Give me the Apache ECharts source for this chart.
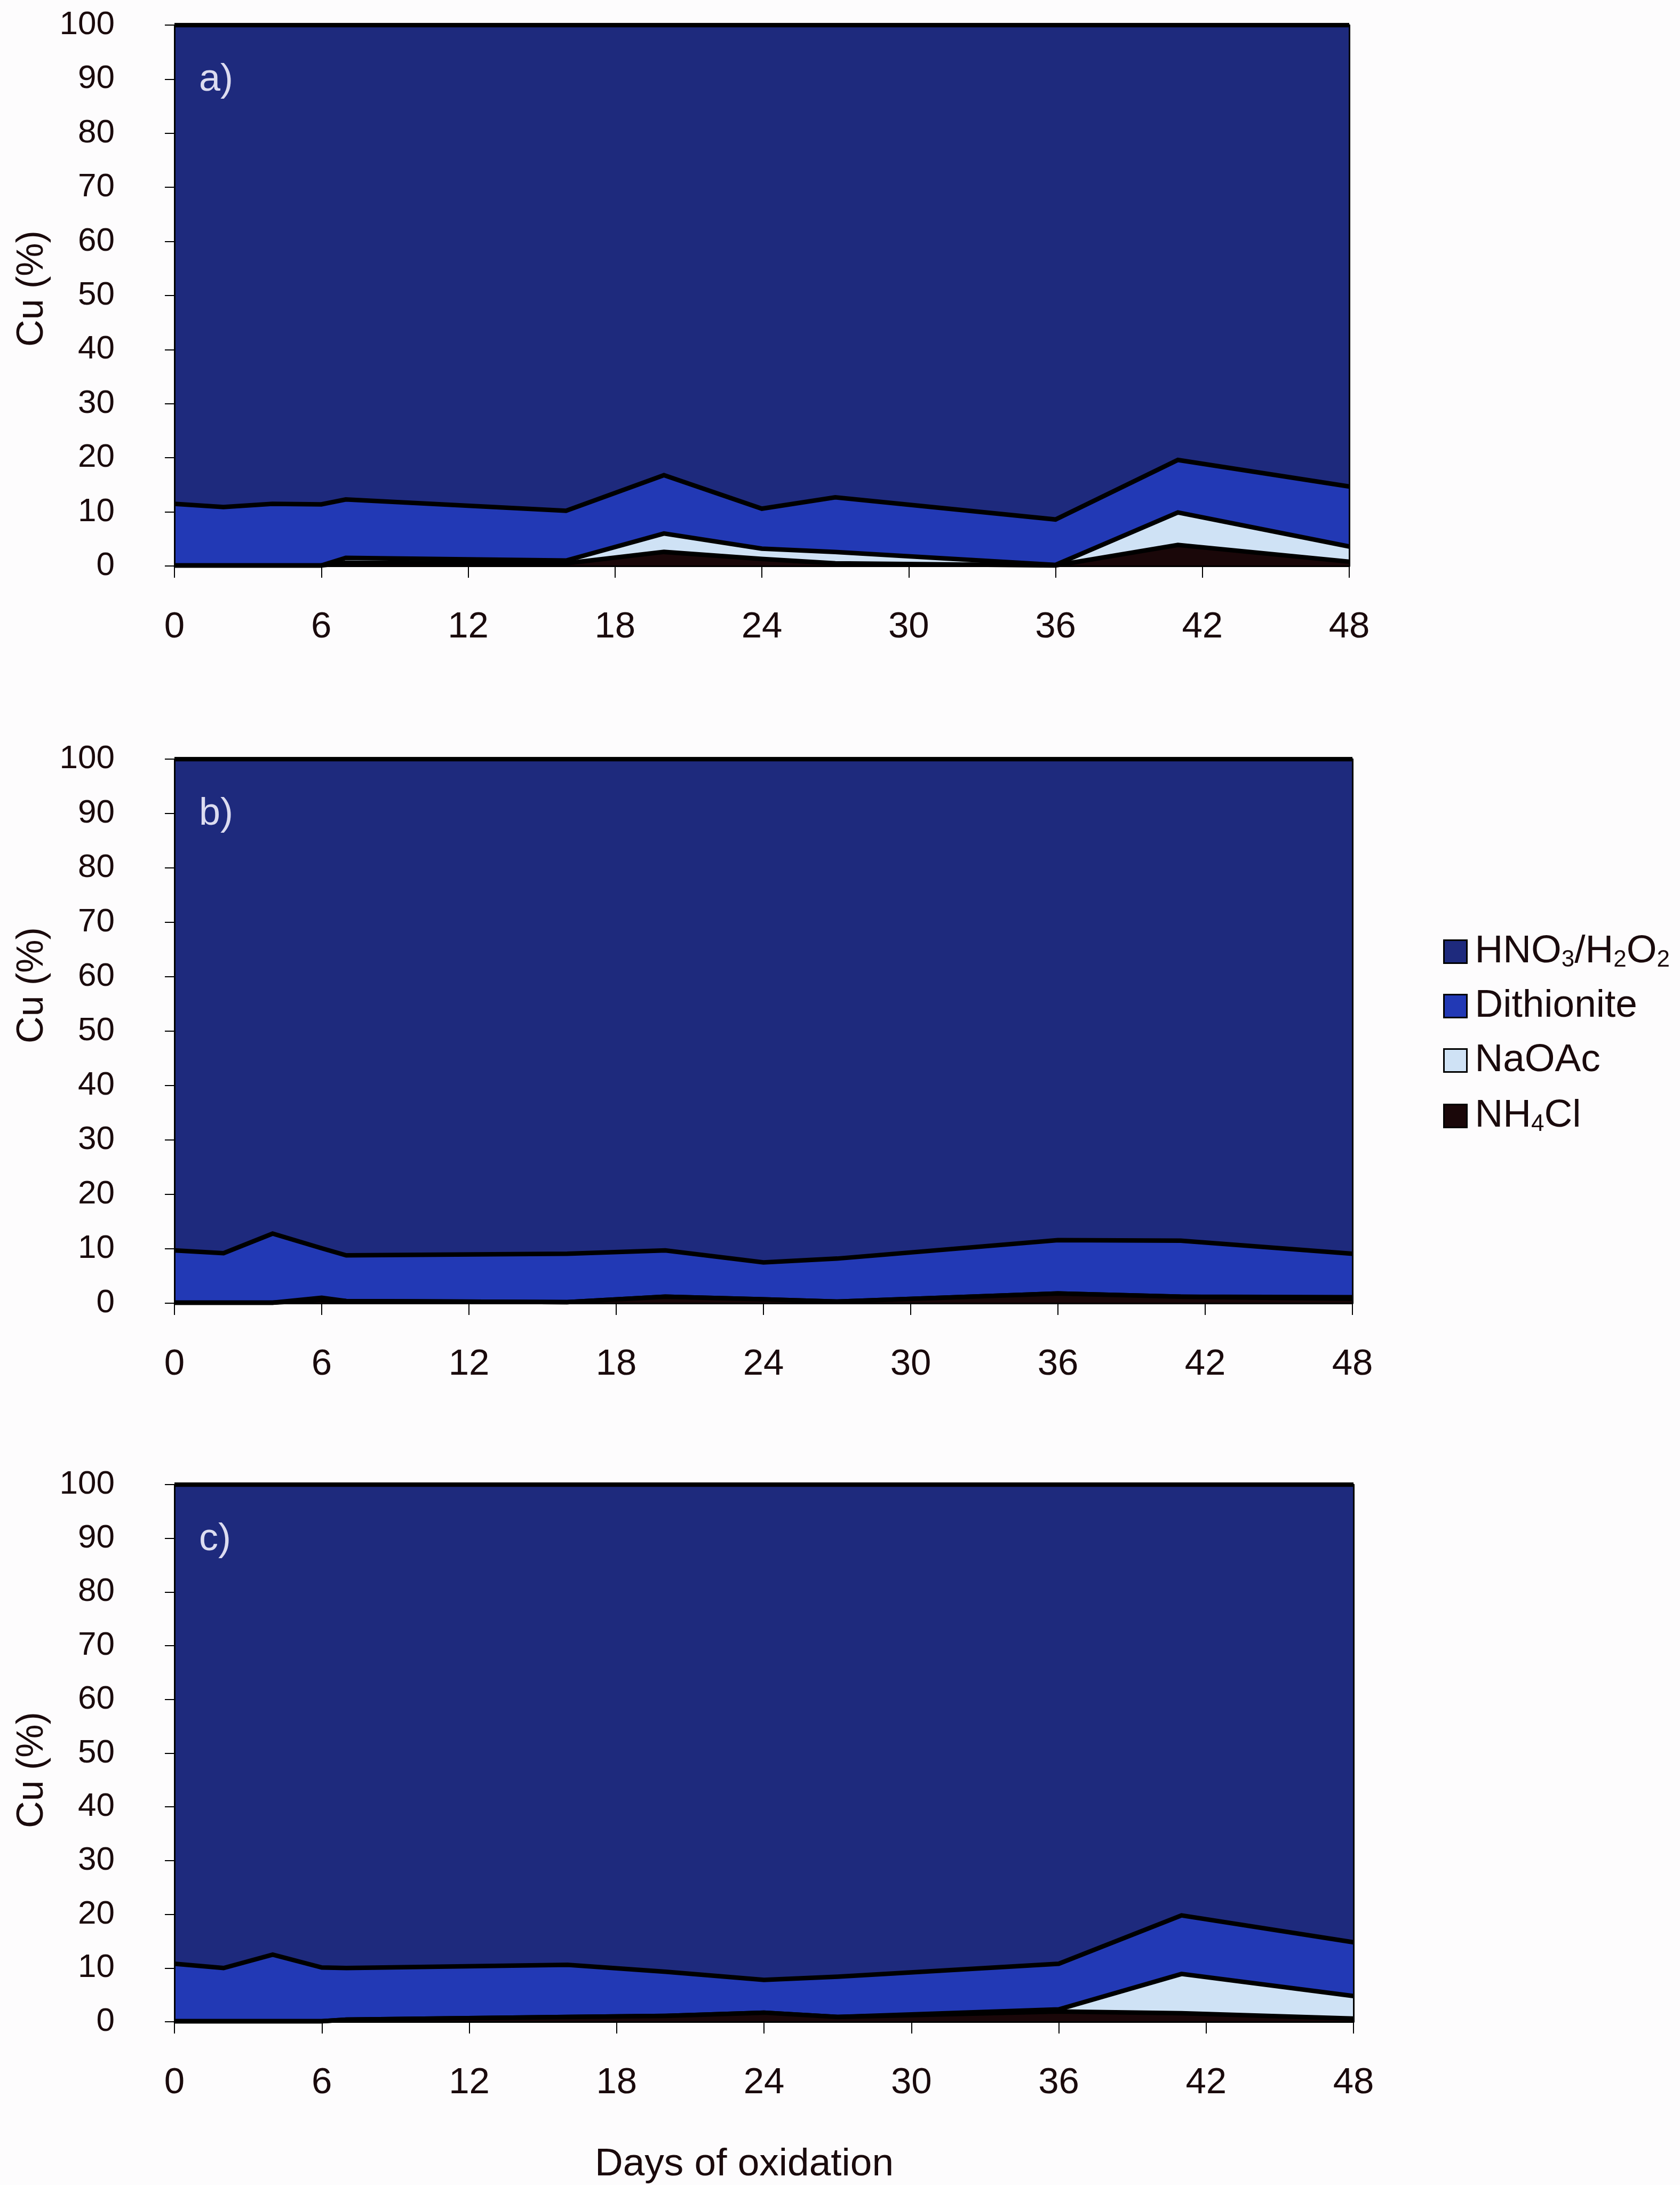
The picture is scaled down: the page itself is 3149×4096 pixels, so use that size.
<!DOCTYPE html>
<html>
<head>
<meta charset="utf-8">
<script src="https://cdn.jsdelivr.net/npm/echarts@6/dist/echarts.min.js"></script>
<style>
html,body{margin:0;padding:0;background:#fdfcfd;}
#chart{width:3149px;height:4096px;}
</style>
</head>
<body>
<div id="chart"></div>
<script>
// ---- data ----
const days = [0, 2, 4, 6, 7, 16, 20, 24, 27, 36, 41, 48];
const xTicks = [0, 6, 12, 18, 24, 30, 36, 42, 48];
const yTicks = [0, 10, 20, 30, 40, 50, 60, 70, 80, 90, 100];
const seriesNames = ['NH4Cl', 'NaOAc', 'Dithionite', 'HNO3/H2O2'];   // bottom -> top
const legendOrder = ['HNO3/H2O2', 'Dithionite', 'NaOAc', 'NH4Cl'];
const panelLabels = ['a)', 'b)', 'c)'];
const xTitle = 'Days of oxidation';
const yTitle = 'Cu (%)';

// panel a (% of total Cu per fraction)
const nh4clA = [0.1, 0.1, 0.1, 0.1, 0.6, 0.5, 2.6, 1.3, 0.5, 0.1, 3.9, 0.8];
const naoacA = [0, 0, 0, 0, 0.9, 0.5, 3.4, 1.9, 2.1, 0.1, 6.0, 2.8];
const dithA  = [11.4, 10.8, 11.4, 11.3, 10.8, 9.2, 10.8, 7.4, 10.1, 8.4, 9.7, 11.1];
const hno3A  = [88.5, 89.1, 88.5, 88.6, 87.7, 89.8, 83.2, 89.4, 87.3, 91.4, 80.4, 85.3];
// panel b
const nh4clB = [0.1, 0.1, 0.1, 0.6, 0.4, 0.2, 1.2, 0.7, 0.3, 1.8, 1.2, 0.8];
const naoacB = [0, 0, 0, 0.4, 0, 0, 0, 0, 0, 0, 0, 0.3];
const dithB  = [9.6, 9.1, 12.7, 9.1, 8.4, 8.9, 8.5, 6.8, 7.9, 9.8, 10.3, 8.0];
const hno3B  = [90.3, 90.8, 87.2, 89.9, 91.2, 90.9, 90.3, 92.5, 91.8, 88.4, 88.5, 90.9];
// panel c
const nh4clC = [0.1, 0.1, 0.1, 0.1, 0.4, 0.9, 1.1, 1.7, 0.9, 1.9, 1.6, 0.6];
const naoacC = [0, 0, 0, 0, 0, 0, 0, 0, 0, 0.4, 7.3, 4.2];
const dithC  = [10.7, 9.9, 12.4, 10.0, 9.6, 9.7, 8.2, 6.1, 7.5, 8.5, 10.9, 10.0];
const hno3C  = [89.2, 90.0, 87.5, 89.9, 90.0, 89.4, 90.7, 92.2, 91.6, 89.2, 80.2, 85.2];

const panels = [
  [nh4clA, naoacA, dithA, hno3A],
  [nh4clB, naoacB, dithB, hno3B],
  [nh4clC, naoacC, dithC, hno3C]
];

// ---- styling ----
const FONT = '"Liberation Sans", Arial, Helvetica, sans-serif';
const INK = '#1a0a0c';
const fills = {
  'NH4Cl': '#1a0709',
  'NaOAc': '#cfe2f5',
  'Dithionite': '#2239b5',
  'HNO3/H2O2': '#1e2a7d'
};
const zOrder = {'NH4Cl': 5, 'NaOAc': 4, 'Dithionite': 3, 'HNO3/H2O2': 2};
const gridBoxes = [
  {left: 327, top: 47, width: 2202, height: 1014},
  {left: 327, top: 1423, width: 2208, height: 1020},
  {left: 327, top: 2783, width: 2210, height: 1007}
];
const yTitleCenters = [541, 1847, 3318];
const richLegend = {
  'HNO3/H2O2': 'HNO{s|3}/H{s|2}O{s|2}',
  'Dithionite': 'Dithionite',
  'NaOAc': 'NaOAc',
  'NH4Cl': 'NH{s|4}Cl'
};

const grid = [], xAxis = [], yAxis = [], series = [], graphic = [];
gridBoxes.forEach((g, p) => {
  grid.push(Object.assign({containLabel: false}, g));
  xAxis.push({
    type: 'value', gridIndex: p,
    min: xTicks[0], max: xTicks[xTicks.length - 1], interval: xTicks[1] - xTicks[0],
    axisLine: {show: true, onZero: false, lineStyle: {color: '#000', width: 3}},
    axisTick: {show: true, inside: false, length: 22, lineStyle: {color: '#000', width: 2}},
    axisLabel: {show: true, fontSize: 69, fontFamily: FONT, color: INK, margin: 80},
    splitLine: {show: false},
    z: 6
  });
  yAxis.push({
    type: 'value', gridIndex: p, position: 'left',
    min: yTicks[0], max: yTicks[yTicks.length - 1], interval: yTicks[1] - yTicks[0],
    axisLine: {show: true, lineStyle: {color: '#000', width: 3}},
    axisTick: {show: true, inside: false, length: 18, lineStyle: {color: '#000', width: 2}},
    axisLabel: {show: true, fontSize: 62, fontFamily: FONT, color: INK, margin: 112},
    splitLine: {show: false},
    z: 6
  });
  yAxis.push({
    type: 'value', gridIndex: p, position: 'right',
    min: yTicks[0], max: yTicks[yTicks.length - 1],
    axisLine: {show: true, lineStyle: {color: '#000', width: 3}},
    axisTick: {show: false}, axisLabel: {show: false}, splitLine: {show: false},
    z: 6
  });
  // stacked areas: each layer drawn from 0 up to its running total,
  // upper layers underneath lower ones
  const running = days.map(() => 0);
  panels[p].forEach((vals, k) => {
    const nm = seriesNames[k];
    const tops = days.map((d, j) => {
      running[j] = running[j] + vals[j];
      return [d, Math.round(running[j] * 100) / 100];
    });
    series.push({
      type: 'line', name: nm,
      xAxisIndex: p, yAxisIndex: 2 * p,
      data: tops,
      showSymbol: false, symbol: 'none',
      lineStyle: {color: '#000', width: 8.5, join: 'miter'},
      areaStyle: {color: fills[nm], opacity: 1, origin: 'start'},
      itemStyle: {color: fills[nm]},
      z: zOrder[nm],
      silent: true
    });
  });
  graphic.push({
    type: 'text', x: g.left + 46, y: g.top + 103, z: 100,
    style: {text: panelLabels[p], fill: '#dcdcf0', fontSize: 72, fontFamily: FONT,
            align: 'left', verticalAlign: 'middle'}
  });
  graphic.push({
    type: 'text', x: 61, y: yTitleCenters[p], rotation: Math.PI / 2, z: 100,
    style: {text: yTitle, fill: INK, fontSize: 70, fontFamily: FONT,
            align: 'center', verticalAlign: 'middle'}
  });
});
graphic.push({
  type: 'text', x: 1395, y: 4058, z: 100,
  style: {text: xTitle, fill: INK, fontSize: 73, fontFamily: FONT, align: 'center', verticalAlign: 'middle'}
});

const option = {
  backgroundColor: '#fdfcfd',
  animation: false,
  grid, xAxis, yAxis, series, graphic,
  legend: {
    orient: 'vertical', left: 2700, top: 1739,
    icon: 'rect', itemWidth: 43, itemHeight: 43, itemGap: 26,
    data: legendOrder.map(nm => ({name: nm, itemStyle: {color: fills[nm], borderColor: '#000', borderWidth: 3}})),
    formatter: nm => richLegend[nm],
    textStyle: {
      fontSize: 73, fontFamily: FONT, color: INK, lineHeight: 76, padding: [0, 0, 0, 10],
      rich: {
        s: {fontSize: 44, fontFamily: FONT, color: INK, lineHeight: 42, verticalAlign: 'bottom', padding: [34, 0, 0, 0]}
      }
    },
    selectedMode: false
  }
};

const chart = echarts.init(document.getElementById('chart'), null, {renderer: 'canvas'});
chart.setOption(option);
</script>
</body>
</html>
